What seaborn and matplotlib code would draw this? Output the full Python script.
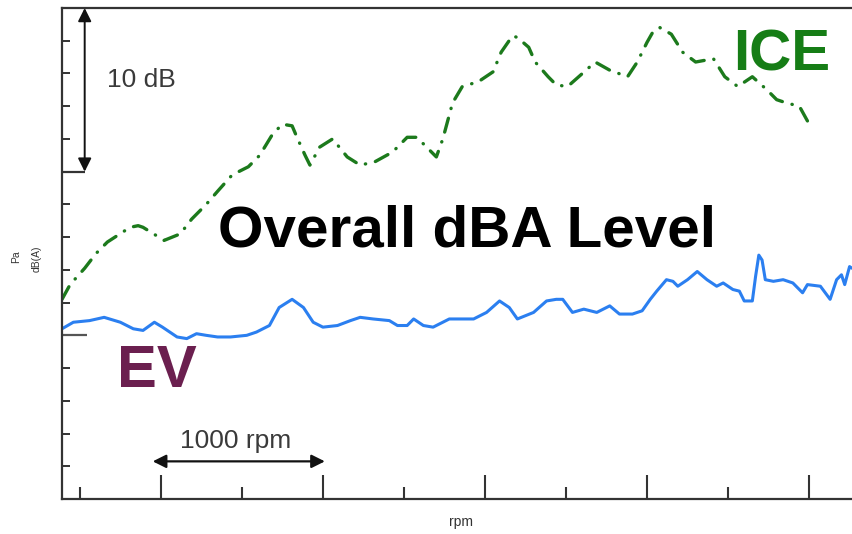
import numpy as np
import pandas as pd
import matplotlib
matplotlib.use("Agg")
import matplotlib.pyplot as plt
import seaborn as sns

# Engine speed sweep (rpm) and relative overall A-weighted level (dB)
ev_rpm = [390, 460, 560, 650, 750, 830, 890, 960, 1010, 1100, 1160, 1220, 1280, 1350,
          1430, 1530, 1590, 1670, 1730, 1810, 1880, 1940, 2000, 2090, 2170, 2230, 2310,
          2410, 2460, 2520, 2560, 2620, 2680, 2780, 2930, 3010, 3090, 3150, 3200, 3300,
          3380, 3440, 3480, 3540, 3610, 3690, 3770, 3830, 3910, 3970, 4020, 4060, 4120,
          4160, 4190, 4250, 4310, 4370, 4430, 4470, 4530, 4570, 4600, 4650, 4670, 4690,
          4710, 4730, 4780, 4840, 4900, 4960, 4990, 5070, 5130, 5170, 5200, 5220, 5250, 5265]
ev_db = [10.4, 10.8, 10.9, 11.1, 10.8, 10.4, 10.3, 10.8, 10.5, 9.9, 9.8, 10.1, 10.0, 9.9,
         9.9, 10.0, 10.2, 10.6, 11.7, 12.2, 11.7, 10.8, 10.5, 10.6, 10.9, 11.1, 11.0,
         10.9, 10.6, 10.6, 11.0, 10.6, 10.5, 11.0, 11.0, 11.4, 12.1, 11.7, 11.0, 11.4,
         12.1, 12.2, 12.2, 11.4, 11.6, 11.4, 11.8, 11.3, 11.3, 11.5, 12.2, 12.7, 13.4,
         13.3, 13.0, 13.4, 13.9, 13.4, 13.0, 13.2, 12.8, 12.7, 12.1, 12.1, 13.6, 14.9,
         14.6, 13.4, 13.3, 13.4, 13.2, 12.6, 13.1, 13.0, 12.2, 13.4, 13.7, 13.1, 14.2, 14.1]

ice_rpm = [390, 440, 530, 600, 670, 810, 860, 890, 1020, 1120, 1190, 1280, 1350, 1440,
           1540, 1610, 1690, 1750, 1810, 1840, 1890, 1920, 1980, 2060, 2150, 2230, 2320,
           2430, 2520, 2580, 2620, 2700, 2740, 2770, 2800, 2860, 2960, 3050, 3100, 3170,
           3200, 3270, 3310, 3390, 3440, 3510, 3590, 3680, 3770, 3880, 3940, 4000, 4040,
           4080, 4150, 4220, 4300, 4410, 4480, 4560, 4650, 4740, 4800, 4860, 4940, 4990]
ice_db = [12.2, 13.1, 14.1, 15.0, 15.7, 16.6, 16.7, 16.6, 15.8, 16.2, 17.1, 18.0, 18.8, 19.8,
          20.3, 21.0, 22.3, 22.9, 22.8, 22.1, 21.0, 20.4, 21.5, 22.0, 20.9, 20.4, 20.6,
          21.2, 22.1, 22.1, 21.7, 20.9, 22.0, 23.1, 24.2, 25.2, 25.5, 26.1, 27.3, 28.3,
          28.2, 27.6, 26.7, 25.8, 25.3, 25.2, 25.9, 26.7, 26.2, 25.8, 26.7, 27.9, 28.6,
          28.8, 28.4, 27.3, 26.7, 26.9, 25.8, 25.2, 25.8, 25.0, 24.4, 24.2, 24.0, 23.1]

x_major = [1000, 2000, 3000, 4000, 5000]
x_minor = [500, 1500, 2500, 3500, 4500]
y_ticks = list(range(0, 31, 2))

ev = pd.DataFrame({"rpm": ev_rpm, "dB": ev_db})
ice = pd.DataFrame({"rpm": ice_rpm, "dB": ice_db})

sns.set_theme(style="white")
plt.rcParams["font.family"] = ["Liberation Sans", "DejaVu Sans"]

W, H = 852, 534
fig = plt.figure(figsize=(W / 100, H / 100), dpi=100)
ax = fig.add_axes([62 / W, 1 - 499 / H, 1 - 62 / W, (499 - 8) / H])

axis_col = "#333333"

sns.lineplot(data=ev, x="rpm", y="dB", ax=ax, color="#2b7ff0", lw=2.2)
sns.lineplot(data=ice, x="rpm", y="dB", ax=ax, color="#1c7a1c", lw=2.4)
ice_line = ax.lines[-1]
ice_line.set_dashes((4.3, 3.0, 0.1, 3.0))
ice_line.set_dash_capstyle("round")

ax.set_xlim(390, 5265)
ax.set_ylim(0, 30)

for side in ["top", "left", "bottom"]:
    ax.spines[side].set_color(axis_col)
    ax.spines[side].set_linewidth(1.6)
ax.spines["right"].set_visible(False)

ax.set_xticks(x_major)
ax.set_xticks(x_minor, minor=True)
ax.set_yticks(y_ticks)
ax.tick_params(axis="x", which="major", direction="in", length=17, width=1.5,
               color=axis_col, labelbottom=False, bottom=True)
ax.tick_params(axis="x", which="minor", direction="in", length=8.5, width=1.5,
               color=axis_col, bottom=True)
ax.tick_params(axis="y", which="major", direction="in", length=6, width=1.4,
               color=axis_col, labelleft=False, left=True)
ax.set_xlabel("")
ax.set_ylabel("")
ax.grid(False)

# 10 dB scale bracket
ax.plot([390, 530], [20, 20], color=axis_col, lw=1.6, solid_capstyle="butt")
ax.plot([390, 545], [10, 10], color="#555555", lw=1.6, solid_capstyle="butt")
ax.annotate("", xy=(530, 30), xytext=(530, 20),
            arrowprops=dict(arrowstyle="<|-|>", color="#111111", lw=1.4,
                            mutation_scale=20, shrinkA=0, shrinkB=0))
ax.text(667, 25.6, "10 dB", fontsize=19, color="#3a3a3a", ha="left", va="center")

# 1000 rpm scale bracket
ax.annotate("", xy=(950, 2.3), xytext=(2012, 2.3),
            arrowprops=dict(arrowstyle="<|-|>", color="#111111", lw=1.6,
                            mutation_scale=20, shrinkA=0, shrinkB=0))
ax.text(1463, 3.1, "1000 rpm", fontsize=19, color="#3a3a3a", ha="center", va="baseline")

ax.text(2889, 15.45, "Overall dBA Level", fontsize=42, fontweight="bold",
        color="black", ha="center", va="baseline")
ax.text(4531, 26.2, "ICE", fontsize=42, fontweight="bold", color="#167d16",
        ha="left", va="baseline")
ax.text(728, 6.85, "EV", fontsize=43, fontweight="bold", color="#6b1f4f",
        ha="left", va="baseline")

fig.text(16 / W, 1 - 257 / H, "Pa", fontsize=7.5, rotation=90, color="#333333",
         ha="center", va="center")
fig.text(37 / W, 1 - 259 / H, "dB(A)", fontsize=7.5, rotation=90, color="#333333",
         ha="center", va="center")
fig.text(461 / W, 1 - 522 / H, "rpm", fontsize=10, color="#333333",
         ha="center", va="center")

fig.savefig("out.png", dpi=100, facecolor="white")
